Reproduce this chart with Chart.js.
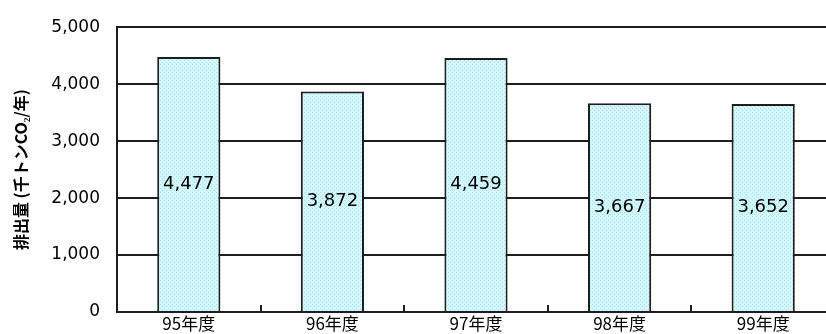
<!DOCTYPE html>
<html>
<head>
<meta charset="utf-8">
<script src="https://cdn.jsdelivr.net/npm/chart.js@4/dist/chart.umd.min.js"></script>
<style>
  html, body { margin: 0; padding: 0; background: #fff; overflow: hidden; }
  canvas { display: block; }
</style>
</head>
<body>
<canvas id="myChart" width="840" height="345"></canvas>
<script>
// 年度別排出量
const years = ['95年度', '96年度', '97年度', '98年度', '99年度'];
const emissions = [4477, 3872, 4459, 3667, 3652];
const yTicks = [0, 1000, 2000, 3000, 4000, 5000];

// 棒の網点模様
function makeDotPattern() {
    const c = document.createElement('canvas');
    c.width = 4;
    c.height = 4;
    const g = c.getContext('2d');
    g.fillStyle = '#ccffff';
    g.fillRect(0, 0, 4, 4);
    g.fillStyle = '#c6cfe8';
    g.fillRect(0, 0, 1, 1);
    g.fillRect(2, 2, 1, 1);
    g.fillStyle = '#dcf4f8';
    g.fillRect(2, 0, 1, 1);
    g.fillRect(0, 2, 1, 1);
    return g.createPattern(c, 'repeat');
}

const lineColor = '#1e1e1e';

// 棒の中央に値を書く
const barValuePlugin = {
    id: 'barValue',
    afterDatasetsDraw(chart) {
        const ctx = chart.ctx;
        const meta = chart.getDatasetMeta(0);
        ctx.save();
        ctx.font = '18px "DejaVu Sans"';
        ctx.fillStyle = '#000';
        ctx.textAlign = 'center';
        ctx.textBaseline = 'middle';
        meta.data.forEach((bar, i) => {
            const v = chart.data.datasets[0].data[i];
            ctx.fillText(v.toLocaleString('en-US'), bar.x, (bar.y + bar.base) / 2);
        });
        ctx.restore();
    }
};

// 横軸の区切り目盛り（内向き）
const innerTickPlugin = {
    id: 'innerTick',
    afterDatasetsDraw(chart) {
        const ctx = chart.ctx;
        const xScale = chart.scales.x;
        const bottom = chart.chartArea.bottom;
        ctx.save();
        ctx.strokeStyle = lineColor;
        ctx.lineWidth = 2;
        for (let i = 1; i < years.length; i++) {
            const x = Math.round((xScale.getPixelForValue(i - 1) + xScale.getPixelForValue(i)) / 2);
            ctx.beginPath();
            ctx.moveTo(x, bottom - 7);
            ctx.lineTo(x, bottom);
            ctx.stroke();
        }
        ctx.restore();
    }
};

const ctx = document.getElementById('myChart').getContext('2d');
const myChart = new Chart(ctx, {
    type: 'bar',
    data: {
        labels: years,
        datasets: [{
            data: emissions,
            backgroundColor: makeDotPattern(),
            borderColor: lineColor,
            borderWidth: 2,
            barPercentage: 0.44,
            categoryPercentage: 1
        }]
    },
    options: {
        responsive: false,
        animation: false,
        devicePixelRatio: 1,
        layout: {
            padding: { top: 21, right: 5, left: 0, bottom: 0 }
        },
        plugins: {
            legend: { display: false },
            tooltip: { enabled: false }
        },
        scales: {
            x: {
                offset: true,
                grid: { display: false, drawTicks: false },
                border: { display: true, color: lineColor, width: 2 },
                ticks: {
                    padding: 1,
                    color: '#000',
                    maxRotation: 0,
                    font: { family: '"Noto Sans CJK JP"', size: 17 }
                },
                afterFit(scale) {
                    scale.height = 33;
                }
            },
            y: {
                min: 0,
                max: 5000,
                afterBuildTicks(scale) {
                    scale.ticks = yTicks.map(v => ({ value: v }));
                },
                grid: {
                    color: lineColor,
                    lineWidth: 2,
                    drawTicks: false
                },
                border: { display: true, color: lineColor, width: 2 },
                ticks: {
                    padding: 17,
                    color: '#000',
                    font: { family: '"DejaVu Sans"', size: 17 },
                    callback: v => v.toLocaleString('en-US')
                },
                title: {
                    display: true,
                    text: '排出量 (千トンCO₂/年)',
                    color: '#000',
                    padding: { top: 11, bottom: 0 },
                    font: { family: '"Noto Sans CJK JP"', size: 16, weight: 'bold' }
                },
                afterFit(scale) {
                    scale.width = 117;
                }
            }
        }
    },
    plugins: [barValuePlugin, innerTickPlugin]
});
</script>
</body>
</html>
